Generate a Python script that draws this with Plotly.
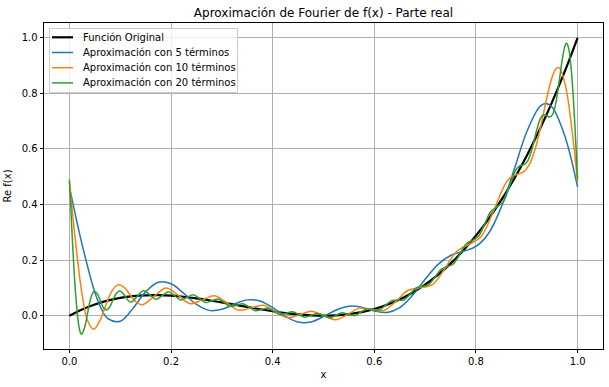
import plotly.graph_objects as go

# ---------------- data ----------------
x_orig = [0.0, 0.025, 0.05, 0.075, 0.1, 0.125, 0.15, 0.175, 0.2, 0.225, 0.25, 0.275, 0.3,
          0.325, 0.35, 0.375, 0.4, 0.425, 0.45, 0.475, 0.5, 0.525, 0.55, 0.575, 0.6, 0.625,
          0.65, 0.675, 0.7, 0.725, 0.75, 0.775, 0.8, 0.825, 0.85, 0.875, 0.9, 0.925, 0.95,
          0.975, 1.0]
y_orig = [0.0, 0.0226, 0.0405, 0.0542, 0.064, 0.0703, 0.0735, 0.0739, 0.072, 0.0681, 0.0625,
          0.0557, 0.048, 0.0398, 0.0315, 0.0234, 0.016, 0.0096, 0.0045, 0.0012, 0.0, 0.0013,
          0.0055, 0.0129, 0.024, 0.0391, 0.0585, 0.0827, 0.112, 0.1468, 0.1875, 0.2344, 0.288,
          0.3486, 0.4165, 0.4922, 0.576, 0.6683, 0.7695, 0.8799, 1.0]

x_n5 = [0.0, 0.025, 0.05, 0.0625, 0.075, 0.1, 0.125, 0.15, 0.175, 0.2, 0.225, 0.25, 0.275,
        0.3, 0.325, 0.35, 0.375, 0.4, 0.425, 0.45, 0.475, 0.5, 0.525, 0.55, 0.575, 0.6,
        0.625, 0.65, 0.675, 0.7, 0.725, 0.75, 0.775, 0.8, 0.825, 0.85, 0.875, 0.9, 0.925,
        0.9375, 0.95, 0.975, 1.0]
y_n5 = [0.4633, 0.2560, 0.0847, 0.0267, -0.0094, -0.0199, 0.0264, 0.0857, 0.1203, 0.1150,
        0.0802, 0.0407, 0.0192, 0.0231, 0.0421, 0.0570, 0.0531, 0.0291, -0.0021, -0.0230,
        -0.0225, -0.0033, 0.0208, 0.0342, 0.0305, 0.0173, 0.0117, 0.0291, 0.0729, 0.1311,
        0.1839, 0.2167, 0.2317, 0.2492, 0.2967, 0.3913, 0.5249, 0.6618, 0.7512, 0.7637,
        0.7504, 0.6461, 0.4633]

x_n10 = [0.0, 0.0119, 0.0238, 0.0357, 0.0476, 0.0595, 0.0714, 0.0833, 0.0952, 0.1071, 0.1190,
         0.1310, 0.1429, 0.1667, 0.1905, 0.2143, 0.2381, 0.2619, 0.2857, 0.3095, 0.3333,
         0.3571, 0.3810, 0.4048, 0.4286, 0.4524, 0.4762, 0.5, 0.5238, 0.5476, 0.5714, 0.5952,
         0.6190, 0.6429, 0.6667, 0.6905, 0.7143, 0.7381, 0.7619, 0.7857, 0.8095, 0.8333,
         0.8571, 0.8690, 0.8810, 0.8929, 0.9048, 0.9167, 0.9286, 0.9405, 0.9524, 0.9600,
         0.9643, 0.9762, 0.9881, 1.0]
y_n10 = [0.4807, 0.2685, 0.0914, -0.0172, -0.0486, -0.0197, 0.0370, 0.0878, 0.1109, 0.1030,
         0.0762, 0.0499, 0.0390, 0.0698, 0.0994, 0.0730, 0.0434, 0.0571, 0.0717, 0.0467,
         0.0197, 0.0276, 0.0377, 0.0160, -0.0067, 0.0030, 0.0162, 0.0008, -0.0141, 0.0048,
         0.0273, 0.0217, 0.0188, 0.0524, 0.0916, 0.1003, 0.1118, 0.1675, 0.2313, 0.2562,
         0.2834, 0.3713, 0.4719, 0.4985, 0.5088, 0.5170, 0.5428, 0.6010, 0.6909, 0.7926,
         0.8717, 0.8929, 0.8913, 0.8278, 0.6818, 0.4807]

x_n20 = [0.0, 0.0061, 0.0122, 0.0183, 0.022, 0.0244, 0.0305, 0.0366, 0.0427, 0.0488, 0.0549,
         0.0610, 0.0671, 0.0732, 0.0793, 0.0854, 0.0915, 0.0976, 0.1037, 0.1098, 0.1159,
         0.1220, 0.1341, 0.1463, 0.1585, 0.1707, 0.1829, 0.1951, 0.2073, 0.2195, 0.2317,
         0.2439, 0.2561, 0.2683, 0.2805, 0.2927, 0.3049, 0.3171, 0.3293, 0.3415, 0.3537,
         0.3659, 0.3780, 0.3902, 0.4024, 0.4146, 0.4268, 0.4390, 0.4512, 0.4634, 0.4756,
         0.4878, 0.5, 0.5122, 0.5244, 0.5366, 0.5488, 0.5610, 0.5732, 0.5854, 0.5976, 0.6098,
         0.6220, 0.6341, 0.6463, 0.6585, 0.6707, 0.6829, 0.6951, 0.7073, 0.7195, 0.7317,
         0.7439, 0.7561, 0.7683, 0.7805, 0.7927, 0.8049, 0.8171, 0.8293, 0.8415, 0.8537,
         0.8659, 0.8780, 0.8841, 0.8902, 0.8963, 0.9024, 0.9085, 0.9146, 0.9207, 0.9268,
         0.9329, 0.9390, 0.9451, 0.9512, 0.9573, 0.9634, 0.9695, 0.9756, 0.978, 0.9817,
         0.9878, 0.9939, 1.0]
y_n20 = [0.4901, 0.2637, 0.0784, -0.0338, -0.0624, -0.0664, -0.0380, 0.0177, 0.0668, 0.0881,
         0.0792, 0.0530, 0.0284, 0.0201, 0.0316, 0.0553, 0.0779, 0.0885, 0.0838, 0.0691,
         0.0546, 0.0492, 0.0707, 0.0906, 0.0747, 0.0589, 0.0730, 0.0860, 0.0715, 0.0569,
         0.0663, 0.0752, 0.0613, 0.0472, 0.0538, 0.0601, 0.0467, 0.0332, 0.0382, 0.0432,
         0.0305, 0.0178, 0.0223, 0.0271, 0.0155, 0.0040, 0.0090, 0.0144, 0.0044, -0.0053,
         0.0010, 0.0081, 0.0002, -0.0075, 0.0014, 0.0107, 0.0051, 0.0004, 0.0124, 0.0251,
         0.0226, 0.0211, 0.0372, 0.0542, 0.0552, 0.0574, 0.0784, 0.1007, 0.1056, 0.1119,
         0.1390, 0.1675, 0.1767, 0.1872, 0.2216, 0.2578, 0.2711, 0.2858, 0.3292, 0.3748,
         0.3917, 0.4097, 0.4647, 0.5226, 0.5367, 0.5414, 0.5454, 0.5591, 0.5884, 0.6307,
         0.6754, 0.7090, 0.7231, 0.7203, 0.7147, 0.7255, 0.7669, 0.8378, 0.9181, 0.9735,
         0.9803, 0.9681, 0.8796, 0.7107, 0.4901]

series_names = ["Función Original", "Aproximación con 5 términos",
                "Aproximación con 10 términos", "Aproximación con 20 términos"]
x_tick_vals = [0.0, 0.2, 0.4, 0.6, 0.8, 1.0]
x_tick_text = ["0.0", "0.2", "0.4", "0.6", "0.8", "1.0"]
y_tick_vals = [0.0, 0.2, 0.4, 0.6, 0.8, 1.0]
y_tick_text = ["0.0", "0.2", "0.4", "0.6", "0.8", "1.0"]

# ---------------- styling ----------------
W, H = 609, 387
L, R, T, B = 44, 6, 23, 38
colors = ["#000000", "#1f77b4", "#ff7f0e", "#2ca02c"]
widths = [2.2, 1.5, 1.5, 1.5]
FONT = "DejaVu Sans, Verdana, sans-serif"

fig = go.Figure()
for (xs, ys), name, c, w in zip([(x_orig, y_orig), (x_n5, y_n5), (x_n10, y_n10), (x_n20, y_n20)],
                                series_names, colors, widths):
    fig.add_trace(go.Scatter(x=xs, y=ys, mode="lines", name=name, showlegend=False,
                             line=dict(color=c, width=w, shape="spline", smoothing=1.0)))

pw, ph = W - L - R, H - T - B


def px(x):
    return (x - L) / pw


def py(y):
    return (H - B - y) / ph


# custom legend (matplotlib look)
lx0, lx1, ly0, ly1 = 49.5, 237.5, 28.5, 92.5
fig.add_shape(type="rect", xref="paper", yref="paper", x0=px(lx0), x1=px(lx1), y0=py(ly1), y1=py(ly0),
              line=dict(color="#cccccc", width=1), fillcolor="rgba(255,255,255,0.8)", layer="above")
entry_y = [37.3, 52.5, 67.7, 82.9]
for yy, name, c, w in zip(entry_y, series_names, colors, widths):
    fig.add_shape(type="line", xref="paper", yref="paper", x0=px(52), x1=px(73), y0=py(yy), y1=py(yy),
                  line=dict(color=c, width=w), layer="above")
    fig.add_annotation(xref="paper", yref="paper", x=px(81), y=py(yy), text=name, showarrow=False,
                       xanchor="left", yanchor="middle", font=dict(family=FONT, size=10, color="black"))

axis_common = dict(ticks="outside", ticklen=3.5, tickwidth=0.8, tickcolor="black",
                   showgrid=True, gridcolor="#b0b0b0", gridwidth=0.8, zeroline=False,
                   showline=True, mirror=True, linecolor="black", linewidth=0.8, automargin=False,
                   tickfont=dict(family=FONT, size=10, color="black"))

fig.update_layout(
    width=W, height=H, margin=dict(l=L, r=R, t=T, b=B, autoexpand=False),
    paper_bgcolor="white", plot_bgcolor="white",
    font=dict(family=FONT, size=10, color="black"),
    title=dict(text="Aproximación de Fourier de f(x) - Parte real", x=0.5, xref="paper",
               y=1 - 12.5 / H, yref="container", xanchor="center", yanchor="middle",
               font=dict(family=FONT, size=12, color="black")),
    xaxis=dict(range=[-0.05, 1.05], tickvals=x_tick_vals, ticktext=x_tick_text,
               title=dict(text="x", font=dict(family=FONT, size=10, color="black"), standoff=4),
               **axis_common),
    yaxis=dict(range=[-0.1198, 1.0533], tickvals=y_tick_vals, ticktext=y_tick_text,
               title=dict(text="Re f(x)", font=dict(family=FONT, size=10, color="black"), standoff=8),
               **axis_common),
)

fig.write_html("out.html",
               config={"displayModeBar": False},
               post_script="document.body.style.margin='0px';"
                           "document.documentElement.style.overflow='hidden';")
